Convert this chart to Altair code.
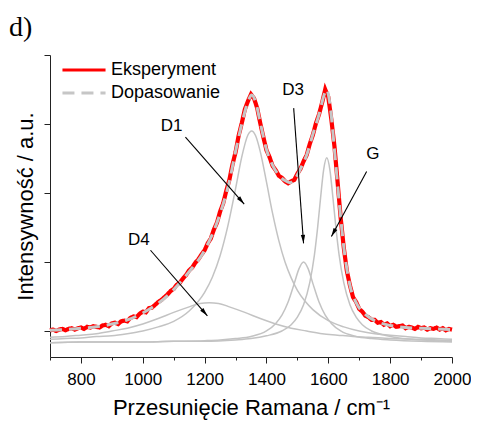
import math
import altair as alt
import pandas as pd

# ---------------- data ----------------
exp_x = list(range(700, 2001, 10))
exp_y = [
    0.01, 0.02, 0.00, 0.02, 0.03, 0.01, 0.03, 0.04, 0.02, 0.04,
    0.05, 0.03, 0.06, 0.05, 0.07, 0.06, 0.05, 0.08, 0.09, 0.07,
    0.11, 0.12, 0.10, 0.14, 0.15, 0.14, 0.19, 0.21, 0.20, 0.25,
    0.28, 0.27, 0.33, 0.34, 0.38, 0.42, 0.45, 0.49, 0.53, 0.58,
    0.61, 0.67, 0.70, 0.76, 0.81, 0.88, 0.92, 0.99, 1.04, 1.11,
    1.17, 1.27, 1.34, 1.47, 1.57, 1.73, 1.85, 2.03, 2.19, 2.41,
    2.59, 2.83, 3.01, 3.21, 3.33, 3.43, 3.37, 3.23, 3.01, 2.81,
    2.62, 2.52, 2.39, 2.33, 2.25, 2.22, 2.17, 2.14, 2.17, 2.19,
    2.28, 2.35, 2.46, 2.55, 2.71, 2.84, 3.01, 3.14, 3.31, 3.50,
    3.39, 3.06, 2.67, 2.16, 1.64, 1.21, 0.87, 0.66, 0.49, 0.42,
    0.32, 0.28, 0.22, 0.20, 0.16, 0.16, 0.12, 0.13, 0.09, 0.11,
    0.07, 0.09, 0.06, 0.07, 0.08, 0.04, 0.06, 0.05, 0.03, 0.06,
    0.04, 0.05, 0.02, 0.04, 0.03, 0.05, 0.02, 0.04, 0.01, 0.03,
    0.02,
]

fit_x = [700, 750, 800, 850, 900, 950, 1000, 1050, 1100, 1150, 1200, 1250, 1280,
         1300, 1320, 1340, 1352, 1365, 1380, 1400, 1420, 1440, 1460, 1476, 1490,
         1510, 1530, 1550, 1570, 1585, 1594, 1605, 1620, 1635, 1650, 1670, 1690,
         1720, 1760, 1800, 1850, 1900, 1950, 2000]
fit_y = [0.01, 0.02, 0.04, 0.06, 0.10, 0.16, 0.26, 0.40, 0.60, 0.86, 1.17, 1.70, 2.17,
         2.60, 3.00, 3.32, 3.42, 3.32, 3.02, 2.63, 2.40, 2.26, 2.18, 2.15, 2.19,
         2.35, 2.55, 2.85, 3.14, 3.40, 3.50, 3.30, 2.62, 1.88, 1.22, 0.66, 0.41,
         0.24, 0.13, 0.08, 0.05, 0.04, 0.03, 0.02]

d1_x = [700, 750, 800, 850, 900, 950, 1000, 1050, 1100, 1150, 1200, 1225, 1250, 1275,
        1300, 1320, 1340, 1352, 1365, 1380, 1400, 1420, 1440, 1460, 1480, 1500, 1525,
        1550, 1600, 1650, 1700, 1750, 1800, 1850, 1900, 1950, 2000]
d1_y = [-0.12, -0.11, -0.10, -0.08, -0.07, -0.04, 0.00, 0.06, 0.14, 0.29, 0.56, 0.78,
        1.09, 1.52, 2.06, 2.52, 2.84, 2.90, 2.83, 2.60, 2.16, 1.70, 1.31, 1.00, 0.77,
        0.59, 0.43, 0.31, 0.15, 0.06, 0.00, -0.04, -0.06, -0.08, -0.10, -0.11, -0.12]

d3_x = [700, 800, 900, 1000, 1100, 1200, 1250, 1300, 1350, 1400, 1430, 1450, 1470,
        1490, 1505, 1520, 1535, 1550, 1570, 1590, 1610, 1640, 1690, 1740, 1800, 1900, 2000]
d3_y = [-0.17, -0.16, -0.16, -0.16, -0.15, -0.14, -0.13, -0.11, -0.08, 0.00, 0.11, 0.23,
        0.42, 0.69, 0.90, 1.00, 0.90, 0.69, 0.42, 0.23, 0.11, 0.00, -0.08, -0.11, -0.13,
        -0.15, -0.16]

d4_x = [700, 750, 800, 850, 900, 950, 1000, 1050, 1100, 1150, 1185, 1215, 1245, 1280,
        1330, 1380, 1430, 1480, 1530, 1580, 1630, 1680, 1730, 1800, 1900, 2000]
d4_y = [-0.09, -0.08, -0.06, -0.04, 0.00, 0.04, 0.10, 0.18, 0.27, 0.35, 0.40, 0.41,
        0.40, 0.35, 0.27, 0.18, 0.10, 0.04, 0.00, -0.04, -0.06, -0.08, -0.09, -0.11,
        -0.12, -0.14]

g_x = [700, 800, 900, 1000, 1100, 1200, 1300, 1350, 1400, 1450, 1480, 1500, 1520, 1540,
       1555, 1565, 1575, 1585, 1595, 1605, 1615, 1625, 1635, 1650, 1670, 1690, 1710,
       1740, 1790, 1840, 1900, 2000]
g_y = [-0.17, -0.16, -0.16, -0.16, -0.15, -0.15, -0.13, -0.11, -0.07, 0.00, 0.09, 0.20,
       0.38, 0.70, 1.10, 1.48, 1.93, 2.34, 2.51, 2.34, 1.93, 1.48, 1.10, 0.70, 0.38,
       0.20, 0.09, 0.00, -0.07, -0.11, -0.13, -0.15]

series_names = ["Eksperyment", "Dopasowanie"]

major_ticks = [800, 1000, 1200, 1400, 1600, 1800, 2000]
minor_ticks = [700, 900, 1100, 1300, 1500, 1700, 1900]
y_ticks = [0, 1, 2, 3, 4]

ann_text = ["D1", "D3", "G", "D4"]
ann_tx = [1093, 1486, 1744, 987]
ann_ty = [2.97, 3.49, 2.57, 1.32]
arr_x1 = [1138, 1488, 1724, 1025]
arr_y1 = [2.81, 3.23, 2.31, 1.17]
arr_x2 = [1328, 1520, 1610, 1209]
arr_y2 = [1.84, 1.27, 1.37, 0.22]

# ---------------- layout ----------------
W, H = 402, 302
XMIN, XMAX = 700, 2000
YMIN, YMAX = -0.377, 4.0
FONT = "Liberation Sans"

exp_df = pd.DataFrame({"x": exp_x, "y": exp_y, "series": series_names[0]})
fit_df = pd.DataFrame({"x": fit_x, "y": fit_y, "series": series_names[1]})
comp_df = pd.concat([
    pd.DataFrame({"x": d1_x, "y": d1_y, "peak": "D1"}),
    pd.DataFrame({"x": d3_x, "y": d3_y, "peak": "D3"}),
    pd.DataFrame({"x": d4_x, "y": d4_y, "peak": "D4"}),
    pd.DataFrame({"x": g_x, "y": g_y, "peak": "G"}),
])
minor_df = pd.DataFrame({"x": minor_ticks})

sx = W / (XMAX - XMIN)
sy = H / (YMAX - YMIN)
angles = []
for a, b, c, d in zip(arr_x1, arr_y1, arr_x2, arr_y2):
    dx = (c - a) * sx
    dys = -(d - b) * sy
    angles.append(math.degrees(math.atan2(dx, -dys)) % 360)
ann_df = pd.DataFrame({"t": ann_text, "tx": ann_tx, "ty": ann_ty,
                       "x1": arr_x1, "y1": arr_y1, "x2": arr_x2, "y2": arr_y2,
                       "angle": angles})

xscale = alt.Scale(domain=[XMIN, XMAX], nice=False, zero=False)
yscale = alt.Scale(domain=[YMIN, YMAX], nice=False, zero=False)

xaxis = alt.Axis(
    values=major_ticks, format="d", tickSize=6, orient="bottom",
    labelFlush=False, labelOverlap=False, grid=False,
    title="Przesunięcie Ramana / cm⁻¹",
    labelFont=FONT, labelFontSize=17, labelColor="#000", labelPadding=8,
    titleFont=FONT, titleFontSize=22, titleFontWeight="normal", titleColor="#000",
    titlePadding=10,
    domainColor="#222", tickColor="#222",
)
xaxis_minor = alt.Axis(
    values=minor_ticks, tickSize=3, orient="bottom", labels=False, domain=False,
    grid=False, title=None, tickColor="#222",
)
yaxis = alt.Axis(
    values=y_ticks, labels=False, tickSize=6, grid=False,
    title="Intensywność / a.u.",
    titleFont=FONT, titleFontSize=22, titleFontWeight="normal", titleColor="#000",
    titlePadding=6,
    domainColor="#222", tickColor="#222",
)

X = alt.X("x:Q", scale=xscale, axis=xaxis)
Y = alt.Y("y:Q", scale=yscale, axis=yaxis)

legend = alt.Legend(
    title=None, orient="none", legendX=25, legendY=6, padding=0,
    symbolType="M-8,0L8,0", symbolSize=29, symbolStrokeWidth=3,
    labelFont=FONT, labelFontSize=18, labelColor="#000", labelOffset=18,
    rowPadding=5,
)
color = alt.Color("series:N", scale=alt.Scale(domain=series_names,
                                               range=["#ff0000", "#c6c6c6"]),
                  legend=legend)
dash = alt.StrokeDash("series:N", scale=alt.Scale(domain=series_names,
                                                   range=[[1, 0], [12, 7]]),
                      legend=legend)

comps = alt.Chart(comp_df).mark_line(color="#c3c3c3", strokeWidth=1.5,
                                     interpolate="monotone").encode(
    x=X, y=Y, detail="peak:N")

exp_line = alt.Chart(exp_df).mark_line(strokeWidth=4.2).encode(
    x=X, y=Y, color=color, strokeDash=dash)

fit_line = alt.Chart(fit_df).mark_line(strokeWidth=3, interpolate="monotone").encode(
    x=X, y=Y, color=color, strokeDash=dash)

rules = alt.Chart(ann_df).mark_rule(color="#000", strokeWidth=1.1).encode(
    x=alt.X("x1:Q", scale=xscale, axis=xaxis), y=alt.Y("y1:Q", scale=yscale, axis=yaxis),
    x2="x2:Q", y2="y2:Q")

heads = alt.Chart(ann_df).mark_point(
    shape="M0,0L-0.45,1.8L0.45,1.8Z", filled=True, color="#000",
    size=90, opacity=1).encode(
    x=alt.X("x2:Q", scale=xscale, axis=xaxis), y=alt.Y("y2:Q", scale=yscale, axis=yaxis),
    angle=alt.Angle("angle:Q", scale=None))

texts = alt.Chart(ann_df).mark_text(font=FONT, fontSize=17, color="#000",
                                    align="center", baseline="middle").encode(
    x=alt.X("tx:Q", scale=xscale, axis=xaxis), y=alt.Y("ty:Q", scale=yscale, axis=yaxis),
    text="t:N")

main = alt.layer(comps, exp_line, fit_line, rules, heads, texts)

minor = alt.Chart(minor_df).mark_point(opacity=0).encode(
    x=alt.X("x:Q", scale=xscale, axis=xaxis_minor))

chart = alt.layer(main, minor).resolve_axis(x="independent").properties(
    width=W, height=H,
    autosize=alt.AutoSizeParams(type="none"),
    padding={"left": 42, "top": 47, "right": 19, "bottom": 64},
    title=alt.TitleParams(text="d)", anchor="start", frame="group", dx=-41,
                          offset=13, font="Liberation Serif", fontSize=28,
                          fontWeight="normal", color="#000"),
    background="white",
).configure_view(stroke=None)

chart.save("out.html", embed_options={"renderer": "svg", "actions": False})
